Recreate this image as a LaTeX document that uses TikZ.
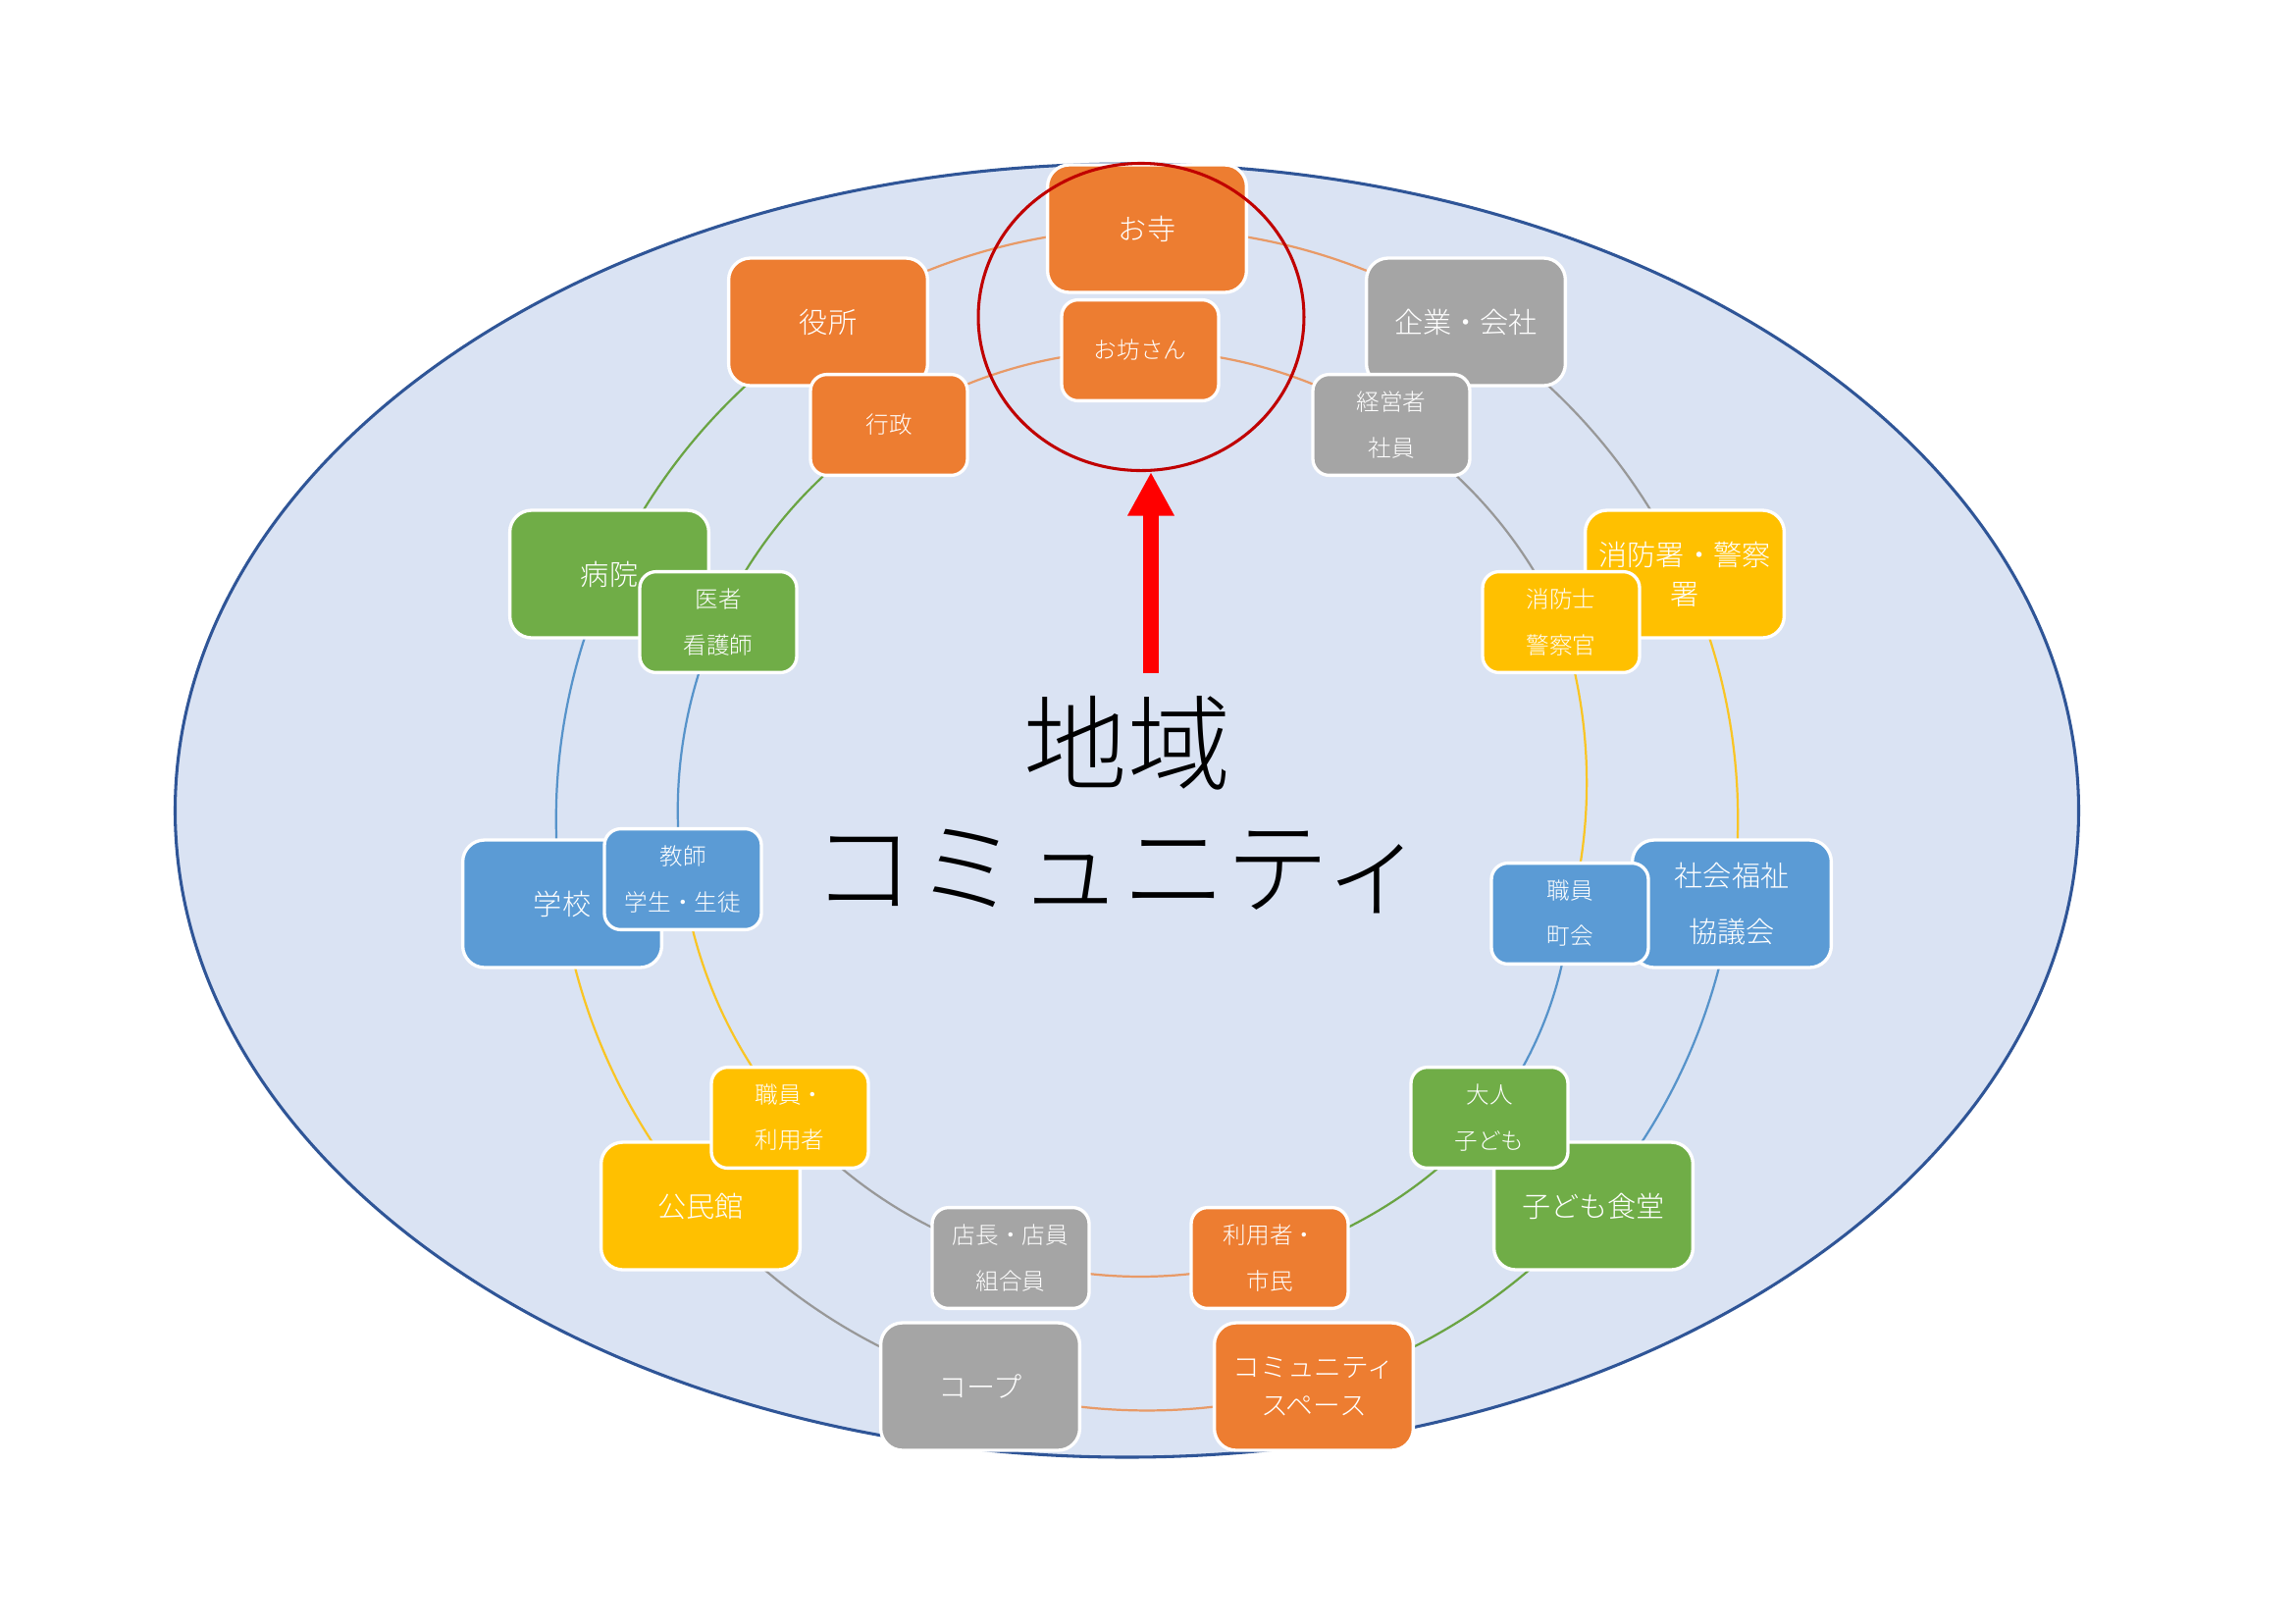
\documentclass[tikz,border=0pt]{standalone}
\usepackage{fontspec}
\IfFontExistsTF{Noto Sans CJK JP Light}{\setmainfont{Noto Sans CJK JP Light}}{\setmainfont{Noto Sans CJK JP}}
\usetikzlibrary{arrows.meta,shapes.geometric}
\definecolor{bgfill}{HTML}{DAE3F3}
\definecolor{bgline}{HTML}{2F5597}
\definecolor{cOr}{HTML}{ED7D31}
\definecolor{cGy}{HTML}{A5A5A5}
\definecolor{cYe}{HTML}{FFC000}
\definecolor{cBl}{HTML}{5B9BD5}
\definecolor{cGn}{HTML}{70AD47}
\definecolor{cRing}{HTML}{C00000}
\definecolor{cArrow}{HTML}{FF0000}
\pgfdeclarelayer{back}
\pgfdeclarelayer{arcsout}
\pgfdeclarelayer{boxout}
\pgfdeclarelayer{arcsin}
\pgfsetlayers{back,arcsout,boxout,arcsin,main}
\begin{document}
\begin{tikzpicture}[x=0.36pt,y=-0.36pt,
  bigbox/.style={rectangle, rounded corners=8pt, draw=white, line width=1.2pt,
    minimum width=73pt, minimum height=46.8pt, text=white, align=center,
    font=\fontsize{10.5}{14.4}\selectfont, inner sep=0pt},
  smallbox/.style={rectangle, rounded corners=6pt, draw=white, line width=1.2pt,
    minimum width=57.6pt, minimum height=37pt, text=white, align=center,
    font=\fontsize{8.5}{16.6}\selectfont, inner sep=0pt},
  link/.style={line width=0.8pt, bend left=16.4, looseness=0.87},
  lOr/.style={link, draw=cOr!72!bgfill},
  lGy/.style={link, draw=cGy!92!black},
  lYe/.style={link, draw=cYe!85!bgfill},
  lBl/.style={link, draw=cBl!95!black},
  lGn/.style={link, draw=cGn!95!black},
]
\useasboundingbox (0,0) rectangle (2339,1654);
\begin{pgfonlayer}{back}
\fill[white] (0,0) rectangle (2339,1654);
\draw[fill=bgfill, draw=bgline, line width=1.1pt] (1148.5,826) ellipse [x radius=970, y radius=659];
\end{pgfonlayer}

% outer ring
\begin{pgfonlayer}{boxout}
\node[bigbox, fill=cOr] (o1) at (1169,233) {お寺};
\node[bigbox, fill=cGy] (o2) at (1494,328) {企業・会社};
\node[bigbox, fill=cYe] (o3) at (1717,585) {消防署・警察\\署};
\node[bigbox, fill=cBl, font=\fontsize{10.5}{20.5}\selectfont] (o4) at (1765,921) {社会福祉\\協議会};
\node[bigbox, fill=cGn] (o5) at (1624,1229) {子ども食堂};
\node[bigbox, fill=cOr, font=\fontsize{10}{14}\selectfont] (o6) at (1339,1413) {コミュニティ\\スペース};
\node[bigbox, fill=cGy] (o7) at (999,1413) {コープ};
\node[bigbox, fill=cYe] (o8) at (714,1229) {公民館};
\node[bigbox, fill=cBl] (o9) at (573,921) {学校};
\node[bigbox, fill=cGn] (o10) at (621,585) {病院};
\node[bigbox, fill=cOr] (o11) at (844,328) {役所};
\end{pgfonlayer}
\begin{pgfonlayer}{arcsout}
\draw[lOr] (o1.center) to (o2.center);
\draw[lGy] (o2.center) to (o3.center);
\draw[lYe] (o3.center) to (o4.center);
\draw[lBl] (o4.center) to (o5.center);
\draw[lGn] (o5.center) to (o6.center);
\draw[lOr] (o6.center) to (o7.center);
\draw[lGy] (o7.center) to (o8.center);
\draw[lYe] (o8.center) to (o9.center);
\draw[lBl] (o9.center) to (o10.center);
\draw[lGn] (o10.center) to (o11.center);
\draw[lOr] (o11.center) to (o1.center);
\end{pgfonlayer}

% inner ring
\node[smallbox, fill=cOr] (i1) at (1162,357) {お坊さん};
\node[smallbox, fill=cGy] (i2) at (1418,433) {経営者\\社員};
\node[smallbox, fill=cYe] (i3) at (1591,634) {消防士\\警察官};
\node[smallbox, fill=cBl] (i4) at (1600,931) {職員\\町会};
\node[smallbox, fill=cGn] (i5) at (1518,1139) {大人\\子ども};
\node[smallbox, fill=cOr] (i6) at (1294,1282) {利用者・\\市民};
\node[smallbox, fill=cGy] (i7) at (1030,1282) {店長・店員\\組合員};
\node[smallbox, fill=cYe] (i8) at (805,1139) {職員・\\利用者};
\node[smallbox, fill=cBl] (i9) at (696,896) {教師\\学生・生徒};
\node[smallbox, fill=cGn] (i10) at (732,634) {医者\\看護師};
\node[smallbox, fill=cOr] (i11) at (906,433) {行政};
\begin{pgfonlayer}{arcsin}
\draw[lOr] (i1.center) to (i2.center);
\draw[lGy] (i2.center) to (i3.center);
\draw[lYe] (i3.center) to (i4.center);
\draw[lBl] (i4.center) to (i5.center);
\draw[lGn] (i5.center) to (i6.center);
\draw[lOr] (i6.center) to (i7.center);
\draw[lGy] (i7.center) to (i8.center);
\draw[lYe] (i8.center) to (i9.center);
\draw[lBl] (i9.center) to (i10.center);
\draw[lGn] (i10.center) to (i11.center);
\draw[lOr] (i11.center) to (i1.center);
\end{pgfonlayer}

% focus ring and arrow
\node[ellipse, draw=cRing, line width=1.1pt, minimum width=119.5pt, minimum height=112.7pt, inner sep=0pt] (focus) at (1163,323) {};
\coordinate (tail) at (1173,686);
\draw[cArrow, line width=5.8pt, -{Triangle[length=16pt, width=16pt]}] (tail) -- (tail |- focus.south);

% title
\node[font=\fontsize{38}{48}\selectfont] (t1) at (1149,757) {地域};
\node[font=\fontsize{38}{48}\selectfont] (t2) at (1141,888) {コミュニティ};
\end{tikzpicture}
\end{document}
